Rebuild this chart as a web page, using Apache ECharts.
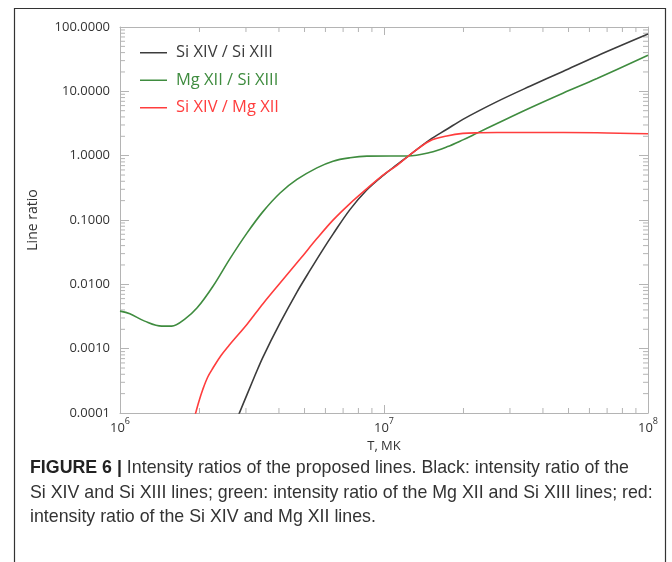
<!DOCTYPE html>
<html>
<head>
<meta charset="utf-8">
<script src="https://cdn.jsdelivr.net/npm/echarts@6/dist/echarts.min.js"></script>
<style>
    body { margin: 0; background: #fff; }
    #main { width: 672px; height: 562px; }
</style>
</head>
<body>
<div id="main"></div>
<script>
    // temperatures (K) and line ratios
    const blackT = [2.82e6, 3.03e6, 3.25e6, 3.48e6, 4.04e6, 4.68e6, 5.25e6, 5.87e6, 6.41e6, 7.43e6, 8.62e6, 9.91e6, 1.12e7, 1.233e7, 1.49e7, 1.73e7, 1.99e7, 2.68e7, 3.57e7, 4.76e7, 6.41e7, 1.0e8];
    const blackR = [0.0000955, 0.000195, 0.000389, 0.000741, 0.00251, 0.00759, 0.0166, 0.0347, 0.0603, 0.145, 0.295, 0.49, 0.724, 0.977, 1.76, 2.57, 3.67, 6.92, 12.0, 20.4, 35.5, 77.6];

    const greenT = [1.0e6, 1.09e6, 1.24e6, 1.44e6, 1.57e6, 1.76e6, 1.96e6, 2.25e6, 2.61e6, 3.03e6, 3.48e6, 4.04e6, 4.68e6, 5.57e6, 6.41e6, 7.43e6, 8.62e6, 1.054e7, 1.233e7, 1.49e7, 1.73e7, 1.99e7, 2.25e7, 2.68e7, 3.57e7, 4.76e7, 6.41e7, 1.0e8];
    const greenR = [0.00383, 0.00348, 0.00268, 0.00224, 0.00224, 0.00288, 0.00431, 0.00933, 0.0251, 0.0631, 0.135, 0.263, 0.427, 0.646, 0.822, 0.927, 0.982, 0.989, 0.989, 1.12, 1.37, 1.76, 2.24, 3.16, 5.50, 9.33, 15.8, 36.3];

    const redT = [1.92e6, 1.99e6, 2.06e6, 2.15e6, 2.25e6, 2.41e6, 2.61e6, 3.03e6, 3.48e6, 4.04e6, 4.81e6, 5.57e6, 6.41e6, 7.43e6, 8.62e6, 9.91e6, 1.12e7, 1.233e7, 1.49e7, 1.73e7, 1.99e7, 2.31e7, 2.68e7, 3.57e7, 6.41e7, 1.0e8];
    const redR = [0.000089, 0.000151, 0.000234, 0.000363, 0.0005, 0.000776, 0.00117, 0.0024, 0.005, 0.0105, 0.0247, 0.0514, 0.0995, 0.180, 0.308, 0.50, 0.708, 0.977, 1.69, 2.02, 2.22, 2.27, 2.29, 2.29, 2.27, 2.19];

    const seriesNames = ['Si XIV / Si XIII', 'Mg XII / Si XIII', 'Si XIV / Mg XII'];
    const seriesColors = ['#3c3c3c', '#3f8c3f', '#ff3d3d'];

    const X_MIN = 1e6, X_MAX = 1e8;
    const Y_MIN = 1e-4, Y_MAX = 100;

    // minor tick positions (2..9 in every decade)
    const xMinor = [];
    for (let d = 6; d < 8; d++) for (let k = 2; k <= 9; k++) xMinor.push(k * Math.pow(10, d));
    const yMinor = [];
    for (let d = -4; d < 2; d++) for (let k = 2; k <= 9; k++) yMinor.push(k * Math.pow(10, d));

    const AXIS = '#b4b4b4';
    const TEXT = '#333';
    const FONT = 'Open Sans';
    const CAPTION_FONT = 'Liberation Sans';

    const zip = (a, b) => a.map((v, i) => [v, b[i]]);

    const chart = echarts.init(document.getElementById('main'));

    function minorX(params, api) {
        const b = api.coord([api.value(0), Y_MIN]);
        const t = api.coord([api.value(0), Y_MAX]);
        return {
            type: 'group',
            children: [
                { type: 'line', shape: { x1: b[0], y1: b[1], x2: b[0], y2: b[1] - 5 }, style: { stroke: AXIS, lineWidth: 1 } },
                { type: 'line', shape: { x1: t[0], y1: t[1], x2: t[0], y2: t[1] + 5 }, style: { stroke: AXIS, lineWidth: 1 } }
            ]
        };
    }
    function minorY(params, api) {
        const l = api.coord([X_MIN, api.value(1)]);
        const r = api.coord([X_MAX, api.value(1)]);
        return {
            type: 'group',
            children: [
                { type: 'line', shape: { x1: l[0], y1: l[1], x2: l[0] + 5, y2: l[1] }, style: { stroke: AXIS, lineWidth: 1 } },
                { type: 'line', shape: { x1: r[0], y1: r[1], x2: r[0] - 5, y2: r[1] }, style: { stroke: AXIS, lineWidth: 1 } }
            ]
        };
    }

    const lineData = [zip(blackT, blackR), zip(greenT, greenR), zip(redT, redR)];

    const captionStyle = { fontFamily: CAPTION_FONT, fontSize: 17.8, fill: '#333', verticalAlign: 'middle' };

    const option = {
        animation: false,
        grid: { left: 120, right: 24, top: 27, bottom: 149 },
        legend: {
            orient: 'vertical',
            left: 135,
            top: 39,
            itemWidth: 27,
            itemHeight: 1.5,
            itemGap: 10,
            icon: 'rect',
            data: seriesNames.map((n, i) => ({ name: n, textStyle: { color: seriesColors[i] } })),
            textStyle: { fontFamily: FONT, fontSize: 16.5, lineHeight: 17.5, padding: [0, 0, 0, 4] }
        },
        xAxis: [{
            type: 'log',
            min: X_MIN,
            max: X_MAX,
            name: 'T, MK',
            nameLocation: 'middle',
            nameGap: 27,
            nameTextStyle: { color: TEXT, fontFamily: FONT, fontSize: 13 },
            axisLine: { lineStyle: { color: AXIS } },
            axisTick: { inside: true, length: 8, lineStyle: { color: AXIS } },
            splitLine: { show: false },
            axisLabel: {
                margin: 4,
                formatter: v => '{b|10}{s|' + Math.round(Math.log10(v)) + '}',
                rich: {
                    b: { fontFamily: FONT, fontSize: 13, color: TEXT, lineHeight: 18, verticalAlign: 'bottom' },
                    s: { fontFamily: FONT, fontSize: 9, color: TEXT, lineHeight: 11, verticalAlign: 'top' }
                }
            }
        }, {
            type: 'log',
            position: 'top',
            min: X_MIN,
            max: X_MAX,
            axisLine: { lineStyle: { color: AXIS } },
            axisTick: { inside: true, length: 8, lineStyle: { color: AXIS } },
            axisLabel: { show: false },
            splitLine: { show: false }
        }],
        yAxis: [{
            type: 'log',
            min: Y_MIN,
            max: Y_MAX,
            name: 'Line ratio',
            nameLocation: 'middle',
            nameGap: 80,
            nameTextStyle: { color: TEXT, fontFamily: FONT, fontSize: 14 },
            axisLine: { show: true, lineStyle: { color: AXIS } },
            axisTick: { show: true, inside: true, length: 9, lineStyle: { color: AXIS } },
            splitLine: { show: false },
            axisLabel: {
                margin: 10,
                color: TEXT,
                fontFamily: FONT,
                fontSize: 13,
                formatter: v => v.toFixed(4)
            }
        }, {
            type: 'log',
            position: 'right',
            min: Y_MIN,
            max: Y_MAX,
            axisLine: { show: true, lineStyle: { color: AXIS } },
            axisTick: { show: true, inside: true, length: 9, lineStyle: { color: AXIS } },
            axisLabel: { show: false },
            splitLine: { show: false }
        }],
        series: [
            ...seriesNames.map((n, i) => ({
                name: n,
                type: 'line',
                data: lineData[i],
                symbol: 'none',
                smooth: 0.35,
                clip: true,
                color: seriesColors[i],
                lineStyle: { width: 1.6, color: seriesColors[i] },
                z: 3
            })),
            {
                type: 'custom',
                silent: true,
                renderItem: minorX,
                data: xMinor.map(v => [v, Y_MIN]),
                z: 1
            },
            {
                type: 'custom',
                silent: true,
                renderItem: minorY,
                data: yMinor.map(v => [X_MIN, v]),
                z: 1
            }
        ],
        graphic: [
            {
                type: 'rect',
                shape: { x: 14.5, y: 8.5, width: 651, height: 600 },
                style: { fill: 'none', stroke: '#333', lineWidth: 1.2 },
                silent: true
            },
            {
                type: 'text',
                x: 30, y: 468,
                style: Object.assign({
                    text: '{b|FIGURE 6 |} Intensity ratios of the proposed lines. Black: intensity ratio of the',
                    rich: { b: { fontWeight: 'bold', fontFamily: CAPTION_FONT, fontSize: 17.8, fill: '#222' } }
                }, captionStyle)
            },
            {
                type: 'text',
                x: 30, y: 493,
                style: Object.assign({
                    text: 'Si XIV and Si XIII lines; green: intensity ratio of the Mg XII and Si XIII lines; red:'
                }, captionStyle)
            },
            {
                type: 'text',
                x: 30, y: 517,
                style: Object.assign({
                    text: 'intensity ratio of the Si XIV and Mg XII lines.'
                }, captionStyle)
            }
        ]
    };

    chart.setOption(option);
</script>
</body>
</html>
